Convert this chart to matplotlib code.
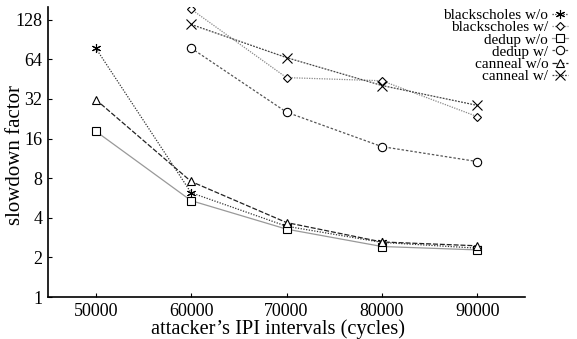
import matplotlib
matplotlib.use("Agg")
import matplotlib.pyplot as plt

plt.rcParams['font.family'] = ['Liberation Serif', 'DejaVu Serif']

x_all = [50000, 60000, 70000, 80000, 90000]
x_w = [60000, 70000, 80000, 90000]

bs_wo = [78, 6.2, 3.45, 2.6, 2.35]
bs_w = [154, 46.5, 44, 23.5]
dedup_wo = [18.2, 5.4, 3.28, 2.42, 2.28]
dedup_w = [78, 25.4, 13.9, 10.7]
canneal_wo = [31.7, 7.55, 3.68, 2.62, 2.45]
canneal_w = [118, 66, 40.5, 28.6]

yticks = [1, 2, 4, 8, 16, 32, 64, 128]
xticks = [50000, 60000, 70000, 80000, 90000]

fig = plt.figure(figsize=(5.77, 3.39), dpi=100)
ax = fig.add_axes([48/577, 42/339, (525-48)/577, (297-7)/339])

common = dict(lw=0.9, mew=0.8, mec='black')
ax.plot(x_all, bs_wo, color='#333333', ls=(0, (1, 1.2)), marker=(6, 2, 0), ms=6.5, label='blackscholes w/o', **common)
ax.plot(x_w, bs_w, color='#888888', ls=(0, (1, 1)), marker='D', ms=4.2, mfc='white', label='blackscholes w/', **common)
ax.plot(x_all, dedup_wo, color='#999999', ls='-', marker='s', ms=6, mfc='white', label='dedup w/o', **common)
ax.plot(x_w, dedup_w, color='#555555', ls=(0, (2, 1.5)), marker='o', ms=6, mfc='white', label='dedup w/', **common)
ax.plot(x_all, canneal_wo, color='#222222', ls=(0, (4, 1.5)), marker='^', ms=6, mfc='white', label='canneal w/o', **common)
ax.plot(x_w, canneal_w, color='#444444', ls=(0, (1.5, 1)), marker='x', ms=6.5, label='canneal w/', **common)

ax.set_yscale('log', base=2)
ax.set_ylim(1, 160)
ax.set_xlim(45000, 95000)
ax.set_yticks(yticks)
ax.set_yticklabels([str(v) for v in yticks])
ax.minorticks_off()
ax.set_xticks(xticks)
ax.set_xticklabels([str(v) for v in xticks])
ax.tick_params(direction='in', length=3, labelsize=13, width=0.8, pad=4)
ax.spines['top'].set_visible(False)
ax.spines['right'].set_visible(False)
ax.spines['left'].set_linewidth(1.2)
ax.spines['bottom'].set_linewidth(1.2)

ax.set_xlabel("attacker\u2019s IPI intervals (cycles)", fontsize=14.7)
ax.xaxis.set_label_coords((278 - 48) / 477, (297 - 319) / 290)
ax.xaxis.label.set_va('top')
ax.set_ylabel("slowdown factor", fontsize=15)
ax.yaxis.set_label_coords((16 - 48) / 477, (297 - 155) / 290)
ax.yaxis.label.set_va('center')

leg = fig.legend(loc='upper right', bbox_to_anchor=(568/577, 1 - 8.5/339), frameon=False,
                 markerfirst=False, fontsize=11, handlelength=1.05,
                 handletextpad=0.25, labelspacing=-0.1, borderpad=0, borderaxespad=0)
for t in leg.get_texts():
    t.set_ha('right')

fig.savefig('out.png', dpi=100)
